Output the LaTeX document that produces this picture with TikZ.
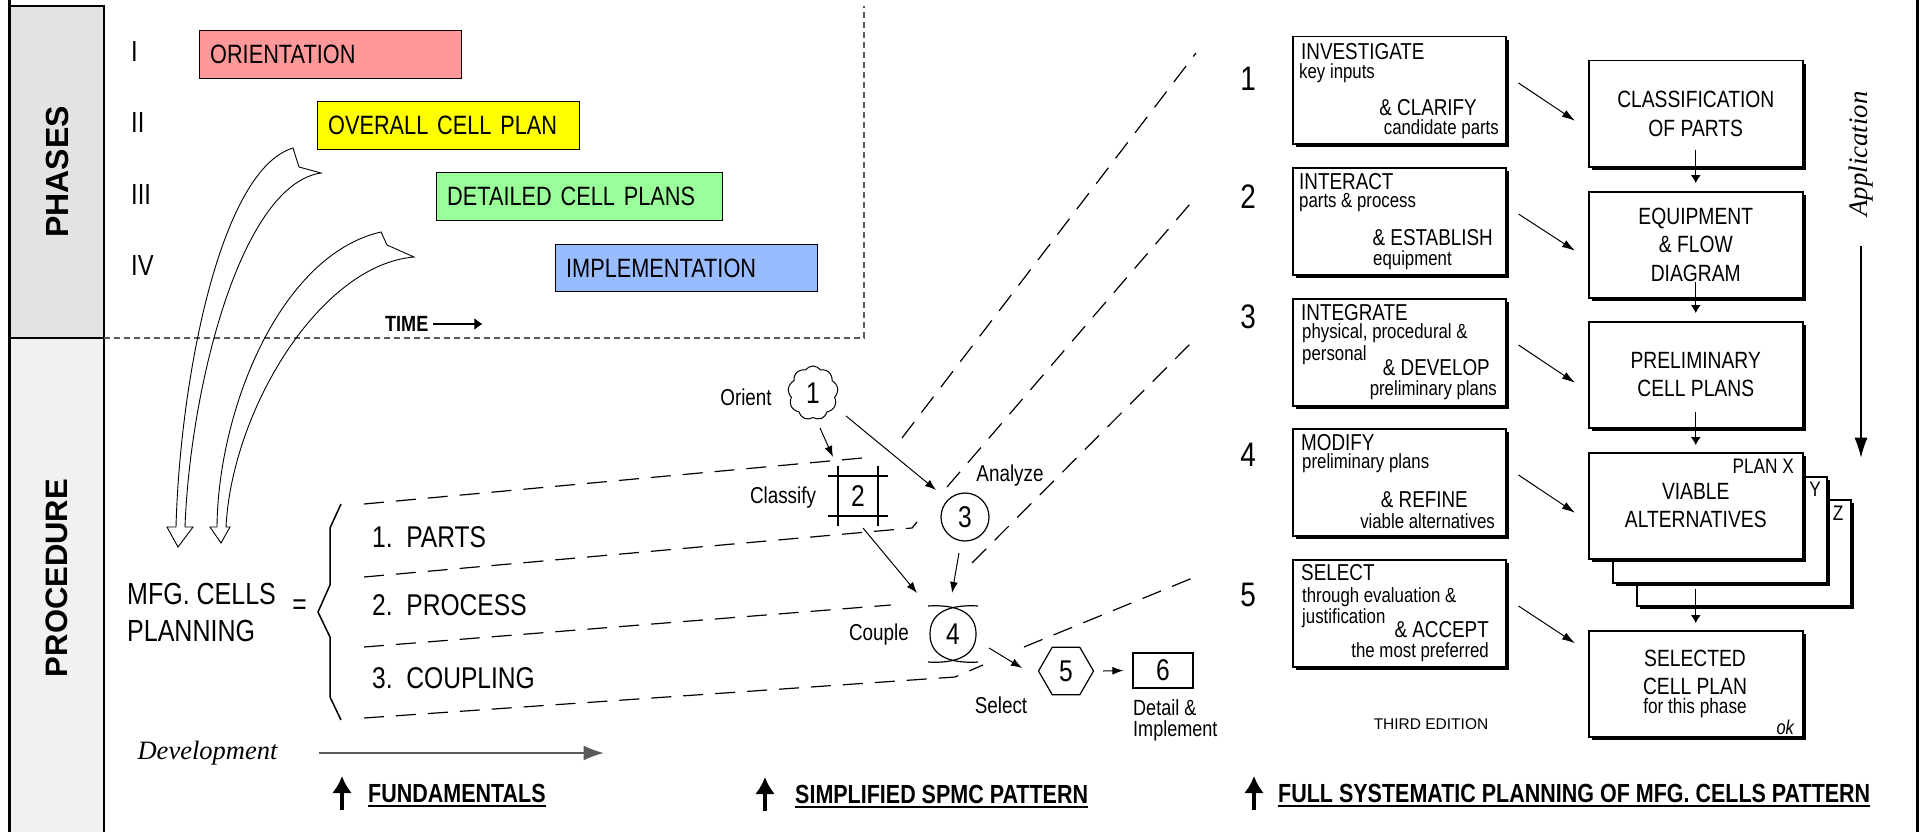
\documentclass[tikz,border=0pt]{standalone}
\usepackage{fontspec}
\setmainfont{Liberation Sans}
\newfontfamily\nar[FakeStretch=0.82]{Liberation Sans}
\newfontfamily\tim{Liberation Serif}
\usetikzlibrary{shapes.geometric,shapes.symbols,shadows,arrows.meta}
\newcommand\myfz[2]{\fontsize{#1pt}{#2pt}\selectfont}
\definecolor{cpink}{RGB}{255,153,153}
\definecolor{cyel}{RGB}{255,255,0}
\definecolor{cgrn}{RGB}{153,255,153}
\definecolor{cblu}{RGB}{153,187,255}
\definecolor{dgray}{RGB}{90,90,90}
\begin{document}
\begin{tikzpicture}[x=1pt,y=-1pt,
  bar/.style={draw, line width=1.3pt, anchor=north west, minimum height=48pt, inner xsep=10.5pt, inner ysep=0pt, align=left, font=\nar\myfz{26.5}{30}},
  lbox/.style={draw, fill=white, line width=1.5pt, anchor=north west, minimum width=213pt, minimum height=107pt, inner sep=0pt, drop shadow={shadow xshift=3pt,shadow yshift=-3pt,opacity=1,fill=black}},
  rbox/.style={lbox, minimum width=214pt, minimum height=106pt, align=center, font=\nar\myfz{23.5}{28.5}},
  big/.style={font=\nar\myfz{23}{26}, inner sep=0pt},
  sml/.style={font=\nar\myfz{20.5}{23}, inner sep=0pt},
  lbl/.style={font=\nar\myfz{23}{21}, inner sep=0pt},
  num/.style={font=\nar\myfz{30}{32}, inner sep=0pt},
  stepnum/.style={font=\nar\myfz{34}{36}, inner sep=0pt},
  roman/.style={anchor=west, font=\nar\myfz{29}{30}, inner sep=0pt},
  fund/.style={anchor=west, font=\nar\bfseries\myfz{26.2}{28}, inner sep=0pt},
  fan/.style={line width=1.2pt, dash pattern=on 20pt off 12pt},
  phdash/.style={line width=1.3pt, dgray, dash pattern=on 6pt off 4pt},
  arr/.style={-{Latex[length=11pt,width=8pt]}, line width=1pt},
  varr/.style={-{Latex[length=8pt,width=10pt]}, line width=1pt},
  darr/.style={-{Latex[length=13pt,width=8pt]}, line width=1pt},
  uparr/.style={-{Latex[length=17pt,width=20pt]}, line width=3.5pt},
  hollow/.style={line width=0.9pt, line join=miter}
]
\useasboundingbox (0,0) rectangle (1921,832);

% ---- left strip
\fill[gray!22] (10,6) rectangle (104,338);
\fill[gray!11] (10,338) rectangle (104,832);
\draw[line width=1.5pt] (10,6) -- (104,6) -- (104,832);
\draw[line width=1.5pt] (10,338) -- (104,338);
\draw[line width=3pt] (9,0) -- (9,832);
\draw[line width=3pt] (1917,0) -- (1917,832);
\node[rotate=90, font=\bfseries\myfz{32}{34}, inner sep=0pt] (phases) at (57,172) {PHASES};
\node[rotate=90, font=\bfseries\myfz{31}{34}, inner sep=0pt] (proc) at (57,578) {PROCEDURE};

% ---- phases frame
\draw[phdash] (104,338) -- (864,338) -- (864,6);

% ---- roman numerals and bars
\node[roman] (r1) at (131,52) {I};
\node[roman] (r2) at (131,123) {II};
\node[roman] (r3) at (131,195) {III};
\node[roman] (r4) at (131,266) {IV};
\node[bar, fill=cpink, text width=241pt] (b1) at (199,30) {ORIENTATION};
\node[bar, fill=cyel, text width=241pt] (b2) at (317,101) {OVERALL CELL PLAN};
\node[bar, fill=cgrn, text width=265pt] (b3) at (436,172) {DETAILED CELL PLANS};
\node[bar, fill=cblu, text width=241pt, minimum height=47pt] (b4) at (555,244) {IMPLEMENTATION};

\node[anchor=west, font=\nar\bfseries\myfz{22}{24}, inner sep=0pt] (time) at (385,324) {TIME};
\draw[-{Latex[length=8pt,width=12pt]}, line width=1.2pt] ([xshift=5pt]time.east) -- ([xshift=54pt]time.east);

% ---- hollow curved arrows
\draw[hollow] (293,148) .. controls (220,170) and (180,380) .. (176,527) -- (167,527) -- (178,547) -- (193,527) -- (185,527) .. controls (190,390) and (240,185) .. (321,173) -- (299,167) -- cycle;
\draw[hollow] (381,232) .. controls (280,255) and (218,410) .. (217,527) -- (210,527) -- (221,543) -- (230,527) -- (226,527) .. controls (232,410) and (320,265) .. (414,257) -- (387,245) -- cycle;

% ---- fundamentals
\node[anchor=west, font=\nar\myfz{30.5}{32}, inner sep=0pt] (mfg1) at (127,594) {MFG. CELLS};
\node[anchor=west, font=\nar\myfz{30.5}{32}, inner sep=0pt] (mfg2) at (127,631) {PLANNING};
\node[font=\nar\myfz{30}{32}, inner sep=0pt] (eq) at (299.5,607) {=};
\draw[line width=1.5pt] (341,504) -- (330,528) -- (330,585) -- (318,612) -- (330,637) -- (330,697) -- (341,720);
\node[anchor=west, font=\nar\myfz{30}{32}, inner sep=0pt] (f1) at (372,537) {1.\ \ PARTS};
\node[anchor=west, font=\nar\myfz{30}{32}, inner sep=0pt] (f2) at (372,605) {2.\ \ PROCESS};
\node[anchor=west, font=\nar\myfz{30}{32}, inner sep=0pt] (f3) at (372,678) {3.\ \ COUPLING};

\node[font=\tim\itshape\myfz{26.5}{28}, inner sep=0pt] (dev) at (207.5,753) {Development};
\draw[-{Latex[length=20pt,width=15pt]}, line width=1.2pt, draw=dgray] ([xshift=41pt]dev.east) -- ([xshift=326pt]dev.east);

% ---- dashed fan lines
\draw[fan] (364,504) -- (873,457);
\draw[fan] (902,438) -- (1196,53);
\draw[fan] (364,577) -- (912,528) -- (917,522);
\draw[fan] (947,487) -- (1196,197);
\draw[fan] (364,647) -- (891,605);
\draw[fan] (972,563) -- (1196,338);
\draw[fan] (364,718) -- (955,677) -- (983,665);
\draw[fan] (1024,647) -- (1195,577);

% ---- simplified SPMC pattern
\node[cloud, draw, cloud puffs=9, cloud puff arc=110, aspect=0.9, minimum width=50pt, minimum height=54pt, inner sep=0pt, line width=1pt, num] (c1) at (813,393) {1};
\node[minimum size=40pt, inner sep=0pt, num] (n2) at (858,496) {2};
\draw[line width=1.5pt] ([xshift=-10pt]n2.north west) -- ([xshift=10pt]n2.north east);
\draw[line width=1.5pt] ([xshift=-10pt]n2.south west) -- ([xshift=10pt]n2.south east);
\draw[line width=1.5pt] ([yshift=10pt]n2.north west) -- ([yshift=-10pt]n2.south west);
\draw[line width=1.5pt] ([yshift=10pt]n2.north east) -- ([yshift=-10pt]n2.south east);
\node[circle, draw, minimum size=48pt, inner sep=0pt, line width=1.2pt, num] (n3) at (965,517) {3};
\node[minimum width=50pt, minimum height=58pt, inner sep=0pt, num] (n4) at (953,634) {4};
\draw[line width=1.2pt] (978,606) .. controls (945,604) and (930,615) .. (930,634) .. controls (930,653) and (945,664) .. (978,662);
\draw[line width=1.2pt] (928,606) .. controls (961,604) and (976,615) .. (976,634) .. controls (976,653) and (961,664) .. (928,662);
\node[regular polygon, regular polygon sides=6, draw, minimum size=55pt, inner sep=0pt, line width=1.2pt, num] (n5) at (1066,671) {5};
\node[draw, minimum width=60pt, minimum height=35pt, inner sep=0pt, line width=1.2pt, num] (n6) at (1163,670.5) {6};

\draw[arr] ([shift={(7,35)}]c1.center) -- ([shift={(-25,-39)}]n2.center);
\draw[arr] ([shift={(33,23)}]c1.center) -- ([shift={(-29,-27)}]n3.center);
\draw[arr] ([shift={(5,32)}]n2.center) -- ([shift={(-36,-41)}]n4.center);
\draw[arr] ([shift={(-6,36)}]n3.center) -- ([shift={(-1,-41)}]n4.center);
\draw[arr] ([shift={(36,14)}]n4.center) -- ([shift={(-44,-3)}]n5.center);
\draw[arr] ([xshift=9pt]n5.east) -- ([xshift=-9pt]n6.west);

\node[lbl] (lorient) at (746,397) {Orient};
\node[lbl] (lclass) at (783,498) {Classify};
\node[lbl] (lanal) at (1010,476) {Analyze};
\node[lbl] (lcouple) at (879,635) {Couple};
\node[lbl] (lselect) at (1001,705) {Select};
\node[anchor=north west, align=left, font=\nar\myfz{22}{21}, inner sep=0pt] (ldet) at (1133,699) {Detail \&\\Implement};

% ---- full SPMC pattern: step numbers
\node[stepnum] (s1) at (1248,79) {1};
\node[stepnum] (s2) at (1248,197) {2};
\node[stepnum] (s3) at (1248,317) {3};
\node[stepnum] (s4) at (1248,455) {4};
\node[stepnum] (s5) at (1248,595) {5};

% left boxes
\node[lbox] (lb1) at (1292,36) {};
\node[lbox] (lb2) at (1292,167) {};
\node[lbox] (lb3) at (1292,298) {};
\node[lbox] (lb4) at (1292,428) {};
\node[lbox] (lb5) at (1292,559) {};

\node[big, anchor=west] (t1a) at (1301,52) {INVESTIGATE};
\node[sml, anchor=west] (t1b) at (1299,73) {key inputs};
\node[big, anchor=east] (t1c) at (1477,108) {\& CLARIFY};
\node[sml, anchor=east] (t1d) at (1499,129) {candidate parts};

\node[big, anchor=west] (t2a) at (1299,182) {INTERACT};
\node[sml, anchor=west] (t2b) at (1299,203) {parts \& process};
\node[big, anchor=east] (t2c) at (1493,238) {\& ESTABLISH};
\node[sml, anchor=west] (t2d) at (1373,260) {equipment};

\node[big, anchor=west] (t3a) at (1301,313) {INTEGRATE};
\node[sml, anchor=west] (t3b) at (1302,333) {physical, procedural \&};
\node[sml, anchor=west] (t3c) at (1302,355) {personal};
\node[big, anchor=east] (t3d) at (1490,368) {\& DEVELOP};
\node[sml, anchor=east] (t3e) at (1497,390) {preliminary plans};

\node[big, anchor=west] (t4a) at (1301,443) {MODIFY};
\node[sml, anchor=west] (t4b) at (1302,463) {preliminary plans};
\node[big, anchor=east] (t4c) at (1468,500) {\& REFINE};
\node[sml, anchor=east] (t4d) at (1495,521) {viable alternatives};

\node[big, anchor=west] (t5a) at (1301,573) {SELECT};
\node[sml, anchor=west] (t5b) at (1302,597) {through evaluation \&};
\node[sml, anchor=west] (t5c) at (1302,618) {justification};
\node[big, anchor=east] (t5d) at (1489,630) {\& ACCEPT};
\node[sml, anchor=east] (t5e) at (1489,652) {the most preferred};

\node[font=\myfz{15.5}{17}, inner sep=0pt] (third) at (1431,724) {THIRD EDITION};

% right boxes
\node[rbox] (rb1) at (1588,60) {CLASSIFICATION\\OF PARTS};
\node[rbox] (rb2) at (1588,191) {EQUIPMENT\\\& FLOW\\DIAGRAM};
\node[rbox] (rb3) at (1588,321) {PRELIMINARY\\CELL PLANS};
\node[rbox] (zb) at (1636,499) {};
\node[rbox] (yb) at (1612,476) {};
\node[rbox] (rb4) at (1588,452) {VIABLE\\ALTERNATIVES};
\node[rbox] (rb5) at (1588,630) {};
\node[font=\nar\myfz{21}{23}, inner sep=0pt, anchor=east] (planx) at (1794,466) {PLAN X};
\node[font=\nar\myfz{21}{23}, inner sep=0pt] (ylab) at (1815,489) {Y};
\node[font=\nar\myfz{21}{23}, inner sep=0pt] (zlab) at (1838,513) {Z};
\node[font=\nar\myfz{23.5}{26}, inner sep=0pt] (sel1) at (1695,658) {SELECTED};
\node[font=\nar\myfz{23.5}{26}, inner sep=0pt] (sel2) at (1695,686) {CELL PLAN};
\node[font=\nar\myfz{21}{23}, inner sep=0pt] (sel3) at (1695,708) {for this phase};
\node[font=\nar\itshape\myfz{20}{22}, inner sep=0pt, anchor=east] (ok) at (1794,727) {ok};

\coordinate (zbot) at (rb5.north |- zb.south);
\draw[varr] ([yshift=18pt]rb1.south) -- ([yshift=8pt]rb2.north);
\draw[varr] ([yshift=17pt]rb2.south) -- ([yshift=8pt]rb3.north);
\draw[varr] ([yshift=17pt]rb3.south) -- ([yshift=7pt]rb4.north);
\draw[varr] ([yshift=18pt]zbot) -- ([yshift=7pt]rb5.north);

\draw[darr] ([shift={(12,47)}]lb1.north east) -- ([shift={(-13,7)}]rb1.west);
\draw[darr] ([shift={(12,47)}]lb2.north east) -- ([shift={(-13,6)}]rb2.west);
\draw[darr] ([shift={(12,47)}]lb3.north east) -- ([shift={(-13,8)}]rb3.west);
\draw[darr] ([shift={(12,47)}]lb4.north east) -- ([shift={(-13,7)}]rb4.west);
\draw[darr] ([shift={(12,47)}]lb5.north east) -- ([shift={(-13,-40.5)}]rb5.west);

% application
\node[rotate=90, font=\tim\itshape\myfz{26.8}{28}, inner sep=0pt] (app) at (1861,154) {Application};
\draw[-{Latex[length=20pt,width=13pt]}, line width=1.2pt] ([yshift=-29pt]app.west) -- ([yshift=-241pt]app.west);

% ---- bottom labels
\node[fund] (lf1) at (368,793) {FUNDAMENTALS};
\node[fund] (lf2) at (795,794) {SIMPLIFIED SPMC PATTERN};
\node[fund] (lf3) at (1278,793) {FULL SYSTEMATIC PLANNING OF MFG. CELLS PATTERN};
\foreach \n/\dx in {lf1/-26, lf2/-30, lf3/-24}{
  \draw[line width=2pt] ([yshift=-3.5pt]\n.base west) -- ([yshift=-3.5pt]\n.base east);
  \draw[uparr] ([xshift=\dx pt, yshift=-17pt]\n.west) -- ([xshift=\dx pt, yshift=17pt]\n.west);
}
\end{tikzpicture}
\end{document}
